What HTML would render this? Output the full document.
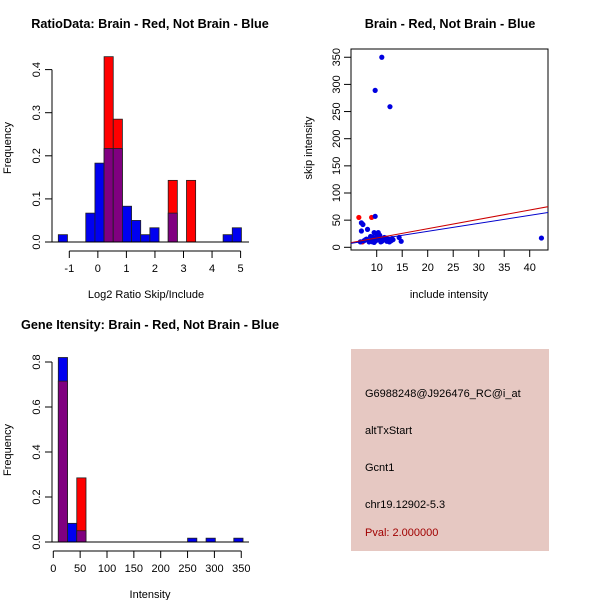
<!DOCTYPE html>
<html><head><meta charset="utf-8"><style>
body{margin:0;background:#fff;}
svg{display:block;font-family:"Liberation Sans",Arial,sans-serif;}
</style></head><body>
<svg id="c" width="600" height="600" viewBox="0 0 600 600">
<rect width="600" height="600" fill="#fff"/>
<text x="150" y="28" font-size="12.7" font-weight="bold" text-anchor="middle">RatioData: Brain - Red, Not Brain - Blue</text>
<text x="450" y="28" font-size="12.7" font-weight="bold" text-anchor="middle">Brain - Red, Not Brain - Blue</text>
<text x="150" y="329" font-size="12.7" font-weight="bold" text-anchor="middle">Gene Itensity: Brain - Red, Not Brain - Blue</text>
<text x="146" y="298" font-size="11" text-anchor="middle">Log2 Ratio Skip/Include</text>
<text x="449" y="298" font-size="11" text-anchor="middle">include intensity</text>
<text x="150" y="598" font-size="11" text-anchor="middle">Intensity</text>
<text transform="translate(11,148) rotate(-90)" font-size="11" text-anchor="middle">Frequency</text>
<text transform="translate(312,148) rotate(-90)" font-size="11" text-anchor="middle">skip intensity</text>
<text transform="translate(11,450) rotate(-90)" font-size="11" text-anchor="middle">Frequency</text>
<g>
<rect x="351" y="349" width="198" height="202" fill="#e6c8c2"/>
<text x="365" y="397" font-size="11">G6988248@J926476_RC@i_at</text>
<text x="365" y="434" font-size="11">altTxStart</text>
<text x="365" y="471" font-size="11">Gcnt1</text>
<text x="365" y="508" font-size="11">chr19.12902-5.3</text>
<text x="365" y="536" font-size="11" fill="#a00000">Pval: 2.000000</text>
</g>
</svg>
<script>
// Ratio histogram data
const ratioStart = -1.385;
const ratioBinWidth = 0.3207;
const ratioRed = [0,0,0,0,0,0.43,0.285,0,0,0,0,0,0.143,0,0.143,0,0,0,0,0];
const ratioBlue = [0.017,0,0,0.067,0.183,0.217,0.217,0.083,0.05,0.017,0.033,0,0.067,0,0,0,0,0,0.017,0.033];
const ratioXTicks = [-1,0,1,2,3,4,5];
const ratioYTicks = [0,0.1,0.2,0.3,0.4];
// Intensity histogram data
const intStart = 9.3;
const intBinWidth = 17.2;
const intRed = [0.715,0,0.285,0,0,0,0,0,0,0,0,0,0,0,0,0,0,0,0,0];
const intBlue = [0.82,0.083,0.05,0,0,0,0,0,0,0,0,0,0,0,0.017,0,0.017,0,0,0.017];
const intXTicks = [0,50,100,150,200,250,300,350];
const intYTicks = [0,0.2,0.4,0.6,0.8];
// Scatter data
const blueX = [11,9.7,12.6,42.3,9.7,7,7.3,7,8.2,9.5,10.3,14.4,14.8,7.5,8,8.5,9,9.3,9.8,10,10.5,10.8,11.2,11.5,12,12.3,12.8,13,8.8,9.5,10.2,11,11.8,12.5,7.8,10.6,9.2,11.4,13.2,6.8];
const blueY = [350,289,259,17,57,45,42,30,33,27,27,18,11,12,15,10,14,18,12,20,16,10,13,18,11,15,12,16,20,9,14,11,17,10,14,22,10,14,14,10];
const redX = [6.5,9.0,7.2,9.5];
const redY = [55,55,10,12];
const xTicksS = [10,15,20,25,30,35,40];
const yTicksS = [0,50,100,150,200,250,300,350];
const redLine = [0.0,1.716];
const blueLine = [0.0,1.47];

const svg = document.getElementById('c');
const NS = 'http://www.w3.org/2000/svg';
function mk(tag, attrs, parent){
  const e = document.createElementNS(NS, tag);
  for (const k in attrs) e.setAttribute(k, attrs[k]);
  (parent||svg).appendChild(e);
  return e;
}
function txt(x,y,s,anchor,rot,parent){
  const t = mk('text',{x:0,y:0,'font-size':11,'text-anchor':anchor||'middle',transform:'translate('+x+','+y+')'+(rot?' rotate(-90)':'')},parent);
  t.textContent = s;
  return t;
}

function histogram(name, start, bw, red, blue, xTicks, yTicks, xs, ys, baseY, xLeft, xRight, axisY){
  const g = mk('g',{});
  
  
  for (let i=0;i<red.length;i++){
    const x0 = xs(start+i*bw), x1 = xs(start+(i+1)*bw);
    const r = red[i], b = blue[i], m = Math.min(r,b);
    const draw = (v, col, nm) => {
      if (v<=0) return;
      const rc = mk('rect',{x:x0,y:ys(v),width:x1-x0,height:ys(0)-ys(v),fill:col,stroke:'#202020','stroke-width':0.8},g);
      
      
    };
    if (b>=r) { draw(b,'#0000f0','bar-blue-'+i); }
    else { draw(r,'#ff0000','bar-red-'+i); }
    draw(m,'#800080','bar-overlap-'+i);
  }
  mk('line',{x1:xLeft,x2:xRight,y1:ys(0),y2:ys(0),stroke:'#000'},g);
  const ya = mk('g',{},g);
  
  
  mk('line',{x1:52,x2:52,y1:ys(yTicks[0]),y2:ys(yTicks[yTicks.length-1]),stroke:'#000'},ya);
  yTicks.forEach(v=>{
    mk('line',{x1:45,x2:52,y1:ys(v),y2:ys(v),stroke:'#000'},ya);
    txt(40,ys(v),v.toFixed(1),'middle',true,ya);
  });
  const xa = mk('g',{},g);
  
  
  mk('line',{x1:xs(xTicks[0]),x2:xs(xTicks[xTicks.length-1]),y1:axisY,y2:axisY,stroke:'#000'},xa);
  xTicks.forEach(v=>{
    mk('line',{x1:xs(v),x2:xs(v),y1:axisY,y2:axisY+7,stroke:'#000'},xa);
    txt(xs(v),axisY+21,String(v),'middle',false,xa);
  });
}

histogram('ratio-histogram', ratioStart, ratioBinWidth, ratioRed, ratioBlue, ratioXTicks, ratioYTicks,
  v=>69.3+(v+1)*28.55, v=>242-v*431, 242, 52, 249, 251);
histogram('intensity-histogram', intStart, intBinWidth, intRed, intBlue, intXTicks, intYTicks,
  v=>53.3+v*0.537, v=>542-v*225, 542, 52, 249, 551);

const sx = v=>376.7+(v-10)*5.1;
const sy = v=>247.3-v*0.543;
const sg = mk('g',{});


const cp = mk('clipPath',{id:'sc'},sg);
mk('rect',{x:351,y:49,width:197,height:201},cp);
const frame = mk('rect',{x:351,y:49,width:197,height:201,fill:'none',stroke:'#000'},sg);


const pts = mk('g',{'clip-path':'url(#sc)'},sg);
redX.forEach((x,i)=>{
  const c = mk('circle',{cx:sx(x),cy:sy(redY[i]),r:2.6,fill:'#ff0000'},pts);
  
  
});
blueX.forEach((x,i)=>{
  const c = mk('circle',{cx:sx(x),cy:sy(blueY[i]),r:2.6,fill:'#0000e0'},pts);
  
  
});
const xa0=4.96, xa1=43.6;
const rl = mk('line',{x1:sx(xa0),y1:sy(redLine[0]+redLine[1]*xa0),x2:sx(xa1),y2:sy(redLine[0]+redLine[1]*xa1),stroke:'#cc0000','stroke-width':1},pts);


const bl = mk('line',{x1:sx(xa0),y1:sy(blueLine[0]+blueLine[1]*xa0),x2:sx(xa1),y2:sy(blueLine[0]+blueLine[1]*xa1),stroke:'#0000cc','stroke-width':1},pts);


xTicksS.forEach(v=>{
  mk('line',{x1:sx(v),x2:sx(v),y1:250,y2:257,stroke:'#000'},sg);
  txt(sx(v),271,String(v),'middle',false,sg);
});
yTicksS.forEach(v=>{
  mk('line',{x1:344,x2:351,y1:sy(v),y2:sy(v),stroke:'#000'},sg);
  txt(340,sy(v),String(v),'middle',true,sg);
});
</script>
</body></html>
